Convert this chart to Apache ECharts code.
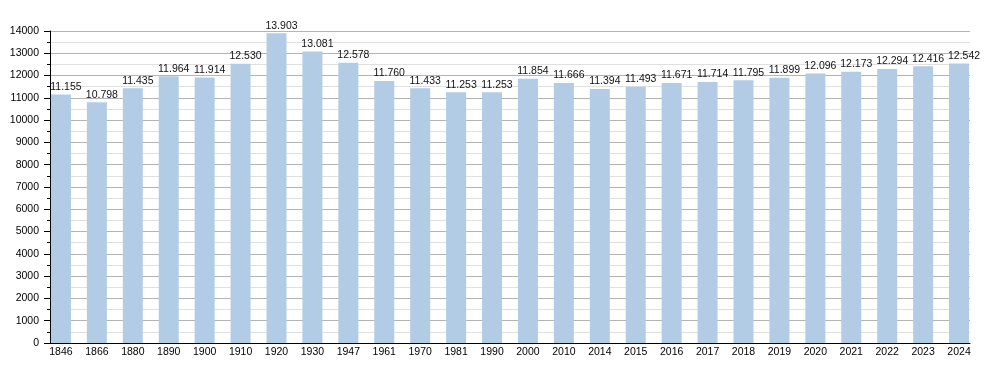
<!DOCTYPE html>
<html>
<head>
<meta charset="utf-8">
<script src="https://cdn.jsdelivr.net/npm/echarts@6/dist/echarts.min.js"></script>
<style>
html,body{margin:0;padding:0;background:#fff;}
#chart{width:1000px;height:373px;}
</style>
</head>
<body>
<div id="chart"></div>
<script>
const years = ["1846","1866","1880","1890","1900","1910","1920","1930","1947","1961","1970","1981","1990","2000","2010","2014","2015","2016","2017","2018","2019","2020","2021","2022","2023","2024"];
const population = [11155,10798,11435,11964,11914,12530,13903,13081,12578,11760,11433,11253,11253,11854,11666,11394,11493,11671,11714,11795,11899,12096,12173,12294,12416,12542];
const yMin = 0, yMax = 14000, yStep = 1000;

function fmt(v){ return String(v).replace(/\B(?=(\d{3})+(?!\d))/g, "."); }

const font = "'Liberation Sans', Arial, sans-serif";
const chart = echarts.init(document.getElementById('chart'), null, {renderer:'canvas'});
chart.setOption({
  animation:false,
  backgroundColor:'#fff',
  grid:[
    {left:43, right:23, top:31, bottom:30},
    {left:50, right:30, top:31, bottom:30}
  ],
  xAxis:[
    {type:'category', gridIndex:0, data:years,
     axisLine:{show:false}, axisTick:{show:false},
     axisLabel:{color:'#000', fontSize:10.5, fontFamily:font, margin:4, interval:0}},
    {type:'value', gridIndex:1, min:0, max:1,
     axisLine:{show:true, lineStyle:{color:'#000', width:1}},
     axisTick:{show:false}, axisLabel:{show:false}, splitLine:{show:false}}
  ],
  yAxis:[
    {type:'value', gridIndex:0, min:yMin, max:yMax, interval:yStep, show:false},
    {type:'value', gridIndex:1, min:yMin, max:yMax, interval:yStep,
     axisLine:{show:true, lineStyle:{color:'#000', width:1}},
     axisTick:{show:true, length:6, lineStyle:{color:'#000'}},
     minorTick:{show:true, splitNumber:2, length:3, lineStyle:{color:'#000'}},
     splitLine:{show:true, lineStyle:{color:'#b4b4b4', width:1}},
     minorSplitLine:{show:true, lineStyle:{color:'#e0e0e0', width:1}},
     axisLabel:{color:'#000', fontSize:10.5, fontFamily:font, margin:11,
       formatter:v=>String(v)}}
  ],
  series:[{
    type:'bar', xAxisIndex:0, yAxisIndex:0, data:population,
    barWidth:20,
    itemStyle:{color:'#b2cce6'},
    label:{show:true, position:'top', distance:2, offset:[5,0],
      color:'#111', fontSize:10.5, fontFamily:font,
      formatter:p=>fmt(p.value)}
  }]
});
</script>
</body>
</html>
